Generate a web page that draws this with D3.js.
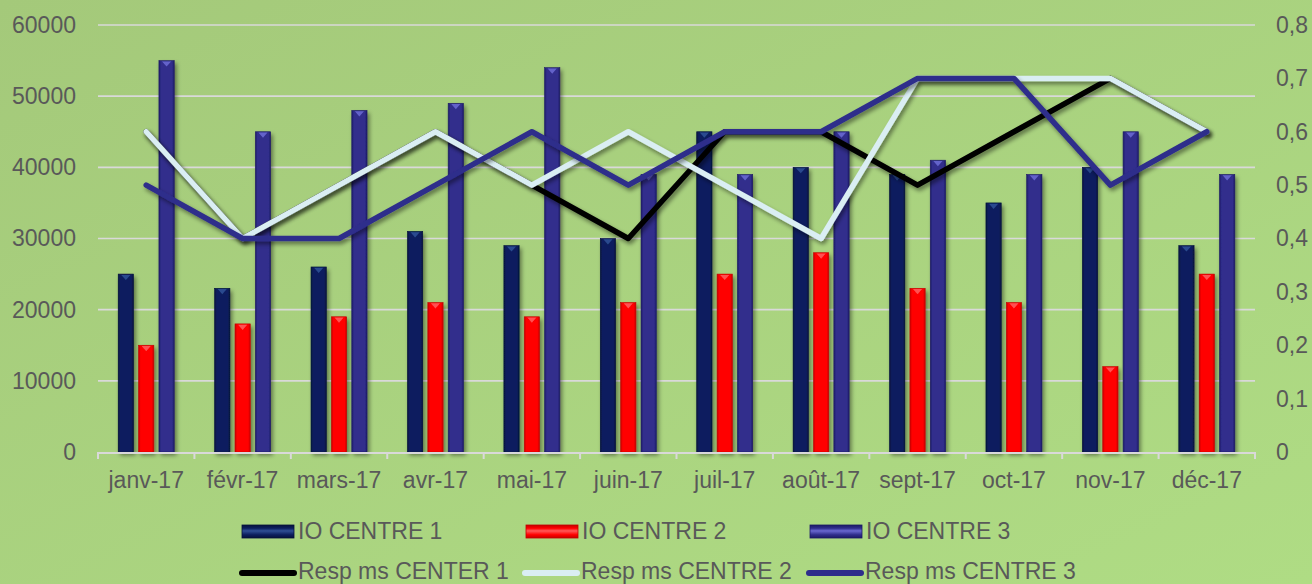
<!DOCTYPE html>
<html><head><meta charset="utf-8">
<script src="https://cdn.jsdelivr.net/npm/d3@7/dist/d3.min.js"></script>
<style>html,body{margin:0;padding:0;overflow:hidden;}svg{display:block;}</style>
</head><body>
<svg id="chart" width="1312" height="584"></svg>
<script>
const months = ["janv-17","févr-17","mars-17","avr-17","mai-17","juin-17","juil-17","août-17","sept-17","oct-17","nov-17","déc-17"];
const ioCentre1 = [25000,23000,26000,31000,29000,30000,45000,40000,39000,35000,40000,29000];
const ioCentre2 = [15000,18000,19000,21000,19000,21000,25000,28000,23000,21000,12000,25000];
const ioCentre3 = [55000,45000,48000,49000,54000,39000,39000,45000,41000,39000,45000,39000];
const respCenter1 = [0.6,0.4,0.5,0.6,0.5,0.4,0.6,0.6,0.5,0.6,0.7,0.6];
const respCentre2 = [0.6,0.4,0.5,0.6,0.5,0.6,0.5,0.4,0.7,0.7,0.7,0.6];
const respCentre3 = [0.5,0.4,0.4,0.5,0.6,0.5,0.6,0.6,0.7,0.7,0.5,0.6];
const leftTicks = [0,10000,20000,30000,40000,50000,60000];
const rightTicks = [0,0.1,0.2,0.3,0.4,0.5,0.6,0.7,0.8];
const barSeries = [
  {name:"IO CENTRE 1", values: ioCentre1, base:"#0c1f5e", dark:"#06123d", light:"#2f4f95"},
  {name:"IO CENTRE 2", values: ioCentre2, base:"#ff0000", dark:"#c40000", light:"#ff5a5a"},
  {name:"IO CENTRE 3", values: ioCentre3, base:"#302e8c", dark:"#1d1b66", light:"#6a68d0"}
];
const lineSeries = [
  {name:"Resp ms CENTER 1", values: respCenter1, color:"#000000"},
  {name:"Resp ms CENTRE 2", values: respCentre2, color:"#daeef3"},
  {name:"Resp ms CENTRE 3", values: respCentre3, color:"#2e2d8b"}
];

const svg = d3.select("#chart");
const W = 1312, H = 584;
const plot = {left: 98, right: 1255, top: 25, bottom: 452};
const textColor = "#595959";
const font = "'Liberation Sans', Arial, sans-serif";

const defs = svg.append("defs");
const bg = defs.append("linearGradient").attr("id","bg").attr("x1",0).attr("y1",0).attr("x2",1).attr("y2",1);
bg.append("stop").attr("offset","0%").attr("stop-color","#a4c97a");
bg.append("stop").attr("offset","100%").attr("stop-color","#afdc84");
barSeries.forEach((s,i)=>{
  const g = defs.append("linearGradient").attr("id","bar"+i).attr("x1",0).attr("x2",1).attr("y1",0).attr("y2",0);
  g.append("stop").attr("offset","0%").attr("stop-color",s.dark);
  g.append("stop").attr("offset","14%").attr("stop-color",s.base);
  g.append("stop").attr("offset","86%").attr("stop-color",s.base);
  g.append("stop").attr("offset","100%").attr("stop-color",s.dark);
  const lg = defs.append("linearGradient").attr("id","leg"+i).attr("x1",0).attr("x2",0).attr("y1",0).attr("y2",1);
  lg.append("stop").attr("offset","0%").attr("stop-color",s.dark);
  lg.append("stop").attr("offset","25%").attr("stop-color",s.base);
  lg.append("stop").attr("offset","45%").attr("stop-color",s.light);
  lg.append("stop").attr("offset","75%").attr("stop-color",s.base);
  lg.append("stop").attr("offset","100%").attr("stop-color",s.dark);
});
const sh = defs.append("filter").attr("id","shadow").attr("x","-20%").attr("y","-20%").attr("width","140%").attr("height","140%");
sh.append("feDropShadow").attr("dx",2).attr("dy",3).attr("stdDeviation",2).attr("flood-color","#000").attr("flood-opacity",0.45);

svg.append("rect").attr("width",W).attr("height",H).attr("fill","url(#bg)");

const x = d3.scaleBand().domain(months).range([plot.left, plot.right]).padding(0);
const yL = d3.scaleLinear().domain([0,60000]).range([plot.bottom, plot.top]);
const yR = d3.scaleLinear().domain([0,0.8]).range([plot.bottom, plot.top]);
const xSub = d3.scaleBand().domain(barSeries.map(s=>s.name)).range([-28, 28]).paddingInner(0.25);

// gridlines
svg.append("g").selectAll("line").data(leftTicks.filter(t=>t>0)).join("line")
  .attr("x1",plot.left).attr("x2",plot.right)
  .attr("y1",d=>yL(d)).attr("y2",d=>yL(d))
  .attr("stroke","#d9d9d9").attr("stroke-width",1.6);

// left axis
const axL = svg.append("g").attr("transform",`translate(${plot.left},0)`)
  .call(d3.axisLeft(yL).tickValues(leftTicks).tickFormat(d3.format("d")).tickSize(0).tickPadding(22));
axL.select(".domain").remove();
axL.selectAll("text").attr("fill",textColor).style("font-family",font).style("font-size","23px");

// right axis
const axR = svg.append("g").attr("transform",`translate(${plot.right},0)`)
  .call(d3.axisRight(yR).tickValues(rightTicks).tickFormat(d=>d===0?"0":String(d).replace(".",",")).tickSize(0).tickPadding(21));
axR.select(".domain").remove();
axR.selectAll("text").attr("fill",textColor).style("font-family",font).style("font-size","23px");

// bars
barSeries.forEach((s,i)=>{
  const g = svg.append("g").attr("filter","url(#shadow)");
  const bw = xSub.bandwidth();
  const bx = d => x(months[d.i]) + x.bandwidth()/2 + xSub(s.name);
  const data = s.values.map((v,j)=>({v, i:j}));
  g.selectAll("rect").data(data).join("rect")
    .attr("x",bx).attr("width",bw)
    .attr("y",d=>yL(d.v)).attr("height",d=>yL(0)-yL(d.v))
    .attr("fill",`url(#bar${i})`).attr("stroke",s.dark).attr("stroke-width",0.6);
  g.selectAll("path").data(data).join("path")
    .attr("d",d=>{const x0=bx(d), y0=yL(d.v); return `M${x0+bw*0.2},${y0+0.8}L${x0+bw*0.8},${y0+0.8}L${x0+bw/2},${y0+6}Z`;})
    .attr("fill",s.light).attr("opacity",0.9);
});

// x axis
svg.append("line").attr("x1",plot.left).attr("x2",plot.right).attr("y1",plot.bottom+1).attr("y2",plot.bottom+1)
  .attr("stroke","#d9d9d9").attr("stroke-width",2);
const bounds = months.map(m=>x(m)).concat([plot.right]);
svg.append("g").selectAll("line").data(bounds).join("line")
  .attr("x1",d=>d).attr("x2",d=>d).attr("y1",plot.bottom).attr("y2",plot.bottom+7)
  .attr("stroke","#d9d9d9").attr("stroke-width",2);
svg.append("g").selectAll("text").data(months).join("text")
  .attr("x",d=>x(d)+x.bandwidth()/2).attr("y",488).attr("text-anchor","middle")
  .attr("fill",textColor).style("font-family",font).style("font-size","23px").text(d=>d);

// lines
const lineGen = d3.line().x((d,i)=>x(months[i])+x.bandwidth()/2).y(d=>yR(d));
lineSeries.forEach(s=>{
  svg.append("path").attr("d",lineGen(s.values)).attr("fill","none")
    .attr("stroke",s.color).attr("stroke-width",5.5).attr("stroke-linecap","round").attr("stroke-linejoin","round")
    .attr("filter","url(#shadow)");
});

// legend
const leg1x = [242, 526, 810];
barSeries.forEach((s,i)=>{
  svg.append("rect").attr("x",leg1x[i]).attr("y",525).attr("width",52).attr("height",13)
    .attr("fill",`url(#leg${i})`).attr("stroke",s.dark).attr("stroke-width",0.8);
  svg.append("text").attr("x",leg1x[i]+56).attr("y",539).attr("fill",textColor)
    .style("font-family",font).style("font-size","23px").text(s.name);
});
const leg2x = [242, 525, 809];
lineSeries.forEach((s,i)=>{
  svg.append("line").attr("x1",leg2x[i]).attr("x2",leg2x[i]+52).attr("y1",573).attr("y2",573)
    .attr("stroke",s.color).attr("stroke-width",6).attr("stroke-linecap","round");
  svg.append("text").attr("x",leg2x[i]+56).attr("y",579).attr("fill",textColor)
    .style("font-family",font).style("font-size","23px").text(s.name);
});
</script>
</body></html>
